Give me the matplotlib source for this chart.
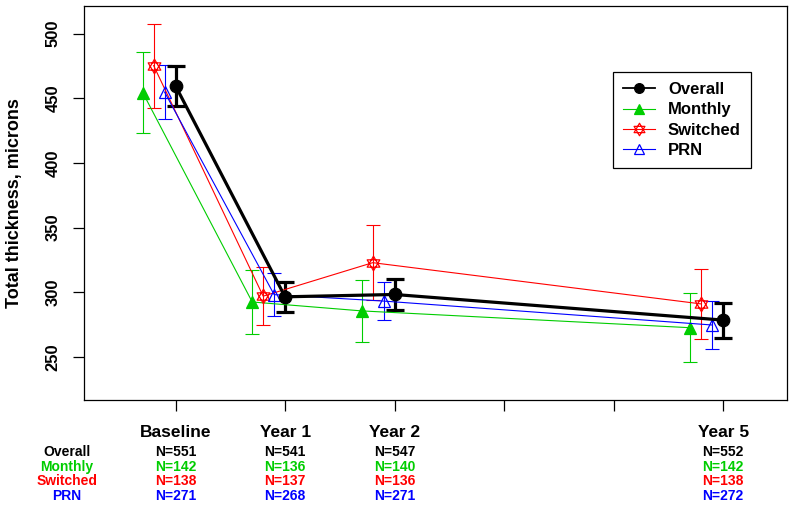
import matplotlib
matplotlib.use("Agg")
import matplotlib.pyplot as plt
import numpy as np
from matplotlib.path import Path
from matplotlib.lines import Line2D
from matplotlib.transforms import blended_transform_factory

plt.rcParams['font.family'] = ['Liberation Sans', 'DejaVu Sans']
plt.rcParams['font.weight'] = 'bold'

# ---- data ----
timepoints = [0, 1, 2, 5]
tick_positions = [0, 1, 2, 3, 4, 5]
tick_labels = ['Baseline', 'Year 1', 'Year 2', '', '', 'Year 5']
groups = ['Overall', 'Monthly', 'Switched', 'PRN']

overall_mean = [459.6, 296.5, 298.3, 278.5]
overall_err = [15.6, 11.7, 12.0, 13.5]
monthly_mean = [454.5, 292.5, 285.6, 272.6]
monthly_err = [31.0, 25.0, 23.8, 26.7]
switched_mean = [475.3, 297.0, 322.9, 291.0]
switched_err = [32.5, 22.5, 29.0, 27.3]
prn_mean = [454.8, 298.2, 293.2, 274.7]
prn_err = [21.0, 16.5, 14.6, 18.5]

overall_n = [551, 541, 547, 552]
monthly_n = [142, 136, 140, 142]
switched_n = [138, 137, 136, 138]
prn_n = [271, 268, 271, 272]

# ---- style ----
GREEN = '#00CD00'
RED = '#FF0000'
BLUE = '#0000FF'

star_path = Path(
    [(0, 1), (-0.866, -0.5), (0.866, -0.5), (0, 1),
     (0, -1), (-0.866, 0.5), (0.866, 0.5), (0, -1)],
    [Path.MOVETO, Path.LINETO, Path.LINETO, Path.CLOSEPOLY,
     Path.MOVETO, Path.LINETO, Path.LINETO, Path.CLOSEPOLY])

W, H = 800, 507
fig = plt.figure(figsize=(W / 100, H / 100), dpi=100)
ax = fig.add_axes([84 / W, 1 - 400 / H, (787 - 84) / W, (400 - 6) / H])

series = [
    # name, mean, err, offset, color, marker, ms, mfc, lw, cap, elw
    ('Overall', overall_mean, overall_err, 0.0, 'black', 'o', 9, 'black', 2.3, 6.5, 2.3),
    ('Monthly', monthly_mean, monthly_err, -0.3, GREEN, '^', 8, GREEN, 0.8, 5, 0.8),
    ('Switched', switched_mean, switched_err, -0.2, RED, star_path, 10.5, 'none', 0.8, 5, 0.8),
    ('PRN', prn_mean, prn_err, -0.1, BLUE, '^', 8, 'none', 0.8, 5, 0.8),
]

draw_order = [1, 2, 3, 0]
handles = {}
for i in draw_order:
    name, mean, err, off, col, mk, ms, mfc, lw, cap, elw = series[i]
    xs = np.array(timepoints) + off
    ax.errorbar(xs, mean, yerr=err, fmt='none', ecolor=col, elinewidth=elw,
                capsize=cap, capthick=elw, zorder=2)
    ax.plot(xs, mean, color=col, lw=lw, marker=mk, markersize=ms,
            markerfacecolor=mfc, markeredgecolor=col,
            markeredgewidth=0.9, zorder=3)
    handles[name] = Line2D([], [], color=col, lw=(1.3 if i == 0 else 0.8),
                           marker=mk, markersize=(9 if i == 2 else 7),
                           markerfacecolor=mfc, markeredgecolor=col,
                           markeredgewidth=0.9)

ax.set_xlim(-0.836, 5.583)
ax.set_ylim(216.7, 521.4)

ax.set_yticks([250, 300, 350, 400, 450, 500])
ax.set_xticks(tick_positions)
ax.set_xticklabels(tick_labels, fontsize=12.5, fontweight='bold')
ax.tick_params(axis='x', direction='out', length=8, width=0.9, pad=10)
ax.tick_params(axis='y', direction='out', length=8, width=0.9, pad=9,
               labelsize=12)
for lab in ax.get_yticklabels():
    lab.set_rotation(90)
    lab.set_va('center')
    lab.set_ha('right')
    lab.set_fontweight('bold')
for sp in ax.spines.values():
    sp.set_linewidth(0.9)

fig.text(15 / W, 1 - 203 / H, 'Total thickness, microns', rotation=90,
         ha='center', va='center', fontsize=13, fontweight='bold')

leg = ax.legend([handles[g] for g in groups], groups, loc='upper left',
                bbox_to_anchor=(613 / W, 1 - 72 / H), bbox_transform=fig.transFigure,
                borderaxespad=0, fancybox=False, framealpha=1, edgecolor='black',
                prop={'size': 12, 'weight': 'bold'}, handlelength=1.9,
                handletextpad=0.8, labelspacing=0.32, borderpad=0.6)
leg.get_frame().set_linewidth(0.9)

# N labels below axis
trans = blended_transform_factory(ax.transData, fig.transFigure)
row_y = [452.3, 466.7, 481.3, 495.7]
n_lists = [overall_n, monthly_n, switched_n, prn_n]
row_colors = ['black', GREEN, RED, BLUE]
for gname, ns, yy, col in zip(groups, n_lists, row_y, row_colors):
    fig.text(67 / W, 1 - yy / H, gname, ha='center', va='center',
             fontsize=10, fontweight='bold', color=col)
    for t, n in zip(timepoints, ns):
        ax.text(t, 1 - yy / H, f'N={n}', transform=trans, ha='center',
                va='center', fontsize=10, fontweight='bold', color=col,
                clip_on=False)

fig.savefig('out.png', dpi=100)
